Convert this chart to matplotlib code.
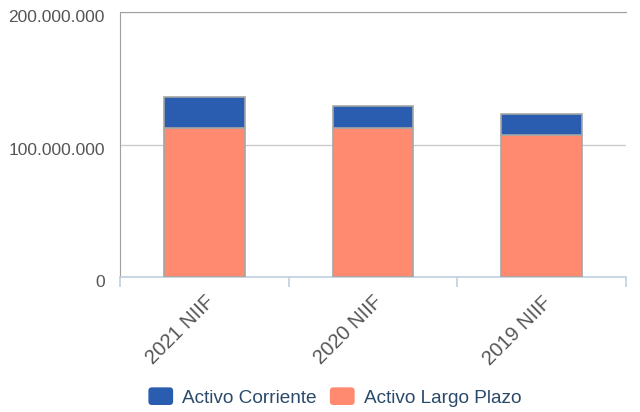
import matplotlib.pyplot as plt
import matplotlib.ticker as mticker
import matplotlib.transforms as mtransforms
from matplotlib.patches import Patch, FancyBboxPatch
from matplotlib.legend_handler import HandlerPatch

plt.rcParams['font.family'] = ['Liberation Sans', 'DejaVu Sans']

years = ['2021 NIIF', '2020 NIIF', '2019 NIIF']
largo_plazo = [112300000, 112300000, 107200000]
corriente = [23800000, 16600000, 15600000]

col_corr = '#2a5db0'
col_largo = '#ff8a70'
edge = '#a6a6a6'


class RoundHandler(HandlerPatch):
    def create_artists(self, legend, orig_handle, xdescent, ydescent, width, height,
                       fontsize, trans):
        p = FancyBboxPatch((-xdescent, -ydescent), width, height,
                           boxstyle='round,pad=0,rounding_size=2.5',
                           facecolor=orig_handle.get_facecolor(), edgecolor='none',
                           transform=trans)
        return [p]


fig = plt.figure(figsize=(6.4, 4.12), dpi=100)
ax = fig.add_axes([120 / 640, (412 - 277.3) / 412, 506 / 640, (277.3 - 12) / 412])

x = range(len(years))
ax.bar(x, largo_plazo, width=0.48, color=col_largo, edgecolor=edge, linewidth=1.2, zorder=3)
ax.bar(x, corriente, width=0.48, bottom=largo_plazo, color=col_corr, edgecolor=edge,
       linewidth=1.2, zorder=3)

ax.set_xlim(-0.5, len(years) - 0.5)
ax.set_ylim(0, 200000000)
ax.set_yticks([0, 100000000, 200000000])
ax.yaxis.set_major_formatter(mticker.FuncFormatter(lambda v, p: f'{int(v):,}'.replace(',', '.')))
ax.yaxis.grid(True, color='#cccccc', linewidth=1, zorder=0)
ax.tick_params(axis='y', length=0, pad=11, labelsize=12.5, labelcolor='#555555')

# labels sit a little below their gridlines in the original
shift = mtransforms.ScaledTranslation(0, -3 / 72, fig.dpi_scale_trans)
for tick in ax.yaxis.get_major_ticks():
    tick.label1.set_transform(tick.label1.get_transform() + shift)

ax.set_xticks(list(x))
ax.set_xticklabels(years, rotation=45, ha='right', va='top', rotation_mode='anchor')
ax.tick_params(axis='x', which='major', length=0, pad=11, labelsize=14.5, labelcolor='#555555')
ax.set_xticks([-0.5, 0.5, 1.5, 2.5], minor=True)
ax.tick_params(axis='x', which='minor', length=7, color='#c0d0e0', width=1.2)

ax.spines['right'].set_visible(False)
ax.spines['top'].set_color('#a0a0a0')
ax.spines['left'].set_color('#a0a0a0')
ax.spines['bottom'].set_color('#c0d0e0')
ax.spines['bottom'].set_linewidth(1.2)

handles = [Patch(facecolor=col_corr, label='Activo Corriente'),
           Patch(facecolor=col_largo, label='Activo Largo Plazo')]
fig.legend(handles=handles, loc='center', bbox_to_anchor=(0.523, 15 / 412), ncol=2,
           frameon=False, fontsize=13.7, handlelength=1.3, handleheight=1.05,
           handletextpad=0.47, columnspacing=0.7, labelcolor='#2b4a6b',
           handler_map={Patch: RoundHandler()})

fig.savefig('out.png', dpi=100)
